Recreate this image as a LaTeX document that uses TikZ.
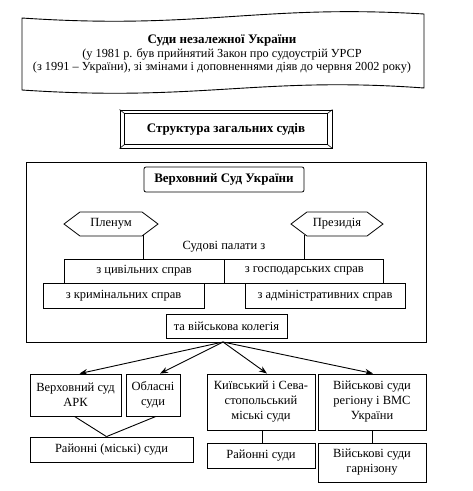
\documentclass[tikz,border=0pt]{standalone}
\usepackage{fontspec}
\setmainfont{Liberation Serif}
\usetikzlibrary{arrows.meta,positioning,calc,shapes.symbols}
\tikzset{box/.style={draw,line width=0.8pt,inner sep=1pt,align=center,
    font=\fontsize{12.5}{15}\selectfont},
  boldbox/.style={box,font=\fontsize{13}{15}\selectfont\bfseries},
  hexbox/.style={box,signal,signal to=west and east,signal pointer angle=74},
  plainbox/.style={box,draw=none},
  edge/.style={-{Stealth[length=8pt,width=6pt]},line width=0.9pt},
  link/.style={line width=0.9pt}}

\begin{document}
\begin{tikzpicture}[x=1pt,y=-1pt]
  \useasboundingbox (0,0) rectangle (473,491);
  % banner
  \draw[line width=0.9pt] (22,18) .. controls (200,30) and (260,4) .. (424,14)
    -- (424,88) .. controls (260,76) and (200,102) .. (22,90) -- cycle;
  \node[plainbox,font=\fontsize{12.3}{13.3}\selectfont] (title) at (222,54)
    {{\fontsize{13}{13.3}\selectfont\bfseries Суди незалежної України}\\(у 1981 р. був прийнятий Закон про судоустрій УРСР\\(з 1991 – України), зі змінами і доповненнями діяв до червня 2002 року)};
  % heading
  \node[boldbox,line width=1pt,minimum width=212pt,minimum height=38pt] (struct) at (226,129) {Структура загальних судів};
  \draw[line width=0.6pt] ($(struct.north west)+(5,4)$) rectangle ($(struct.south east)+(-5,-4)$);
  \foreach \c/\dx/\dy in {north west/5/4,north east/-5/4,south west/5/-4,south east/-5/-4}
    \draw[line width=0.6pt] (struct.\c) -- ++(\dx,\dy);
  % supreme court block
  \node[box,minimum width=400pt,minimum height=180pt] (frame) at (226,252) {};
  \node[boldbox,rounded corners=2pt,minimum width=160pt,minimum height=25pt] (vsu) at (224,179.5) {Верховний Суд України};
  \node[hexbox,minimum width=94pt,minimum height=24pt] (plenum) at (111,224) {Пленум};
  \node[hexbox,minimum width=92pt,minimum height=24pt] (prez) at (337,224) {Президія};
  \node[plainbox,minimum width=160pt,minimum height=24pt] (palaty) at (224,247) {Судові палати з};
  \draw[link,line width=0.8pt] (palaty.north west) -- (palaty.south west) -- (palaty.south east) -- (palaty.north east);
  \node[box,minimum width=160pt,minimum height=24pt] (civ) at (144,271) {з цивільних справ};
  \node[box,minimum width=159pt,minimum height=24pt,right=0pt of civ] (gosp) {з господарських справ};
  \node[box,minimum width=161pt,minimum height=25pt] (krym) at (123.5,296) {з кримінальних справ};
  \node[box,minimum width=160pt,minimum height=25pt] (adm) at (325,296) {з адміністративних справ};
  \node[box,minimum width=121pt,minimum height=24pt] (kol) at (226.5,326) {та військова колегія};
  % courts below
  \coordinate (hub) at (223,342);
  \node[box,minimum width=91pt,minimum height=42pt] (ark) at (75.5,395) {Верховний суд\\АРК};
  \node[box,minimum width=54pt,minimum height=42pt] (obl) at (153,395) {Обласні\\суди};
  \node[box,line width=1pt,minimum width=108pt,minimum height=56pt] (kyiv) at (261,402) {Київський і Сева-\\стопольський\\міські суди};
  \node[box,line width=1pt,minimum width=108pt,minimum height=56pt] (mil) at (372,402) {Військові суди\\регіону і ВМС\\України};
  \node[box,minimum width=163pt,minimum height=25pt] (rayon) at (111.5,449.5) {Районні (міські) суди};
  \node[box,line width=1pt,minimum width=108pt,minimum height=25pt] (rayon2) at (261,455.5) {Районні суди};
  \node[box,minimum width=108pt,minimum height=39pt] (garn) at (372,462.5) {Військові суди\\гарнізону};
  \draw[edge] (hub) -- ([xshift=4pt]ark.north);
  \draw[edge] (hub) -- ([xshift=7pt]obl.north);
  \draw[edge] (hub) -- ([xshift=6pt]kyiv.north);
  \draw[edge] (hub) -- ([xshift=1pt]mil.north);
  \draw[link] ([xshift=-1pt]ark.south) -- ([xshift=-5pt]rayon.north);
  \draw[link] ([xshift=3pt]obl.south) -- ([xshift=-5pt]rayon.north);
  \draw[link] ([xshift=1pt]kyiv.south) -- ([xshift=1pt]rayon2.north);
  \draw[link] (mil.south) -- (garn.north);
\end{tikzpicture}
\end{document}
